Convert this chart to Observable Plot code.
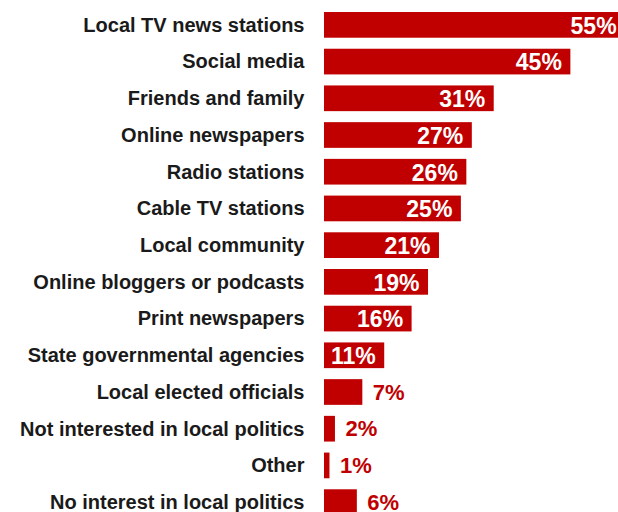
<!DOCTYPE html>
<html><head><meta charset="utf-8">
<script src="https://cdn.jsdelivr.net/npm/d3@7"></script>
<script src="https://cdn.jsdelivr.net/npm/@observablehq/plot@0.6"></script>
<style>
html,body{margin:0;padding:0;background:#fff;overflow:hidden;}
#chart{width:618px;height:512px;overflow:hidden;}
</style>
</head><body><div id="chart"></div>
<script>
const categories = ["Local TV news stations","Social media","Friends and family","Online newspapers","Radio stations","Cable TV stations","Local community","Online bloggers or podcasts","Print newspapers","State governmental agencies","Local elected officials","Not interested in local politics","Other","No interest in local politics"];
const values = [55,45,31,27,26,25,21,19,16,11,7,2,1,6];
const data = categories.map((c,i)=>({category:c, value:values[i]}));
const inside = data.filter(d=>d.value>=10);
const outside = data.filter(d=>d.value<10);
const red = "#c00000";
const chart = Plot.plot({
  width:618, height:512,
  marginLeft:324, marginRight:0, marginTop:1, marginBottom:-14,
  style:{fontFamily:"'Liberation Sans', Arial, sans-serif", background:"#fff", overflow:"hidden"},
  x:{domain:[0,53.7], axis:null},
  y:{domain:categories, padding:0.3, round:false, label:null},
  marks:[
    Plot.barX(data,{y:"category", x:"value", fill:red}),
    Plot.axisY({tickSize:0, tickPadding:20, fontSize:20, fill:"#1a1a1a", label:null}),
    Plot.text(inside,{y:"category", x:"value", text:d=>d.value+"%", textAnchor:"end", dx:-9, dy:1, fill:"white", fontSize:23, fontWeight:700}),
    Plot.text(outside,{y:"category", x:"value", text:d=>d.value+"%", textAnchor:"start", dx:10, dy:0, fill:red, fontSize:22, fontWeight:700})
  ]
});
chart.style.fontWeight = 700;
document.getElementById("chart").appendChild(chart);
</script>
</body></html>
